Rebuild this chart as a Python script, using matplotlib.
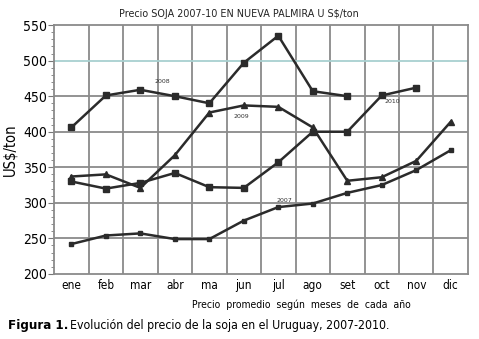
import matplotlib.pyplot as plt
from matplotlib.ticker import MultipleLocator

# monthly average soybean prices, US$/ton
meses = ['ene', 'feb', 'mar', 'abr', 'ma', 'jun', 'jul', 'ago', 'set', 'oct', 'nov', 'dic']
p2007 = [242, 254, 257, 249, 249, 275, 294, 299, 314, 325, 346, 374]
p2008 = [406, 451, 459, 450, 440, 497, 535, 457, 450]
p2009 = [337, 340, 321, 367, 427, 437, 435, 406, 331, 336, 359, 414]
p2010 = [330, 320, 328, 342, 322, 321, 357, 400, 400, 451, 462]

narrow = dict(family='DejaVu Sans', stretch='condensed')
linea = '#2b2b2b'

fig = plt.figure(figsize=(4.79, 3.39), dpi=100)
ax = fig.add_axes([0.113, 0.192, 0.864, 0.734])

x = list(range(12))
ax.plot(x[:len(p2007)], p2007, color=linea, lw=1.8, marker='s', ms=3.2, zorder=3)
ax.plot(x[:len(p2008)], p2008, color=linea, lw=1.8, marker='s', ms=4.5, zorder=3)
ax.plot(x[:len(p2009)], p2009, color=linea, lw=1.8, marker='^', ms=4, zorder=3)
ax.plot(x[:len(p2010)], p2010, color=linea, lw=1.8, marker='s', ms=4, zorder=3)

# year labels next to each line
for txt, xx, yy in [('2008', 2.63, 471), ('2009', 4.92, 422), ('2010', 9.3, 442), ('2007', 6.17, 303)]:
    ax.text(xx, yy, txt, fontsize=4.5, color='#333333', ha='center', va='center', zorder=4)

ax.set_xlim(-0.5, 11.5)
ax.set_ylim(200, 550)
ax.set_xticks(x)
ax.set_xticklabels(meses, fontsize=8.5, **narrow)
ax.yaxis.set_major_locator(MultipleLocator(50))
ax.yaxis.set_minor_locator(MultipleLocator(10))
for lab in ax.get_yticklabels():
    lab.set_family(narrow['family'])
    lab.set_stretch(narrow['stretch'])
    lab.set_fontsize(10)
ax.tick_params(axis='x', length=0, pad=4)
ax.tick_params(axis='y', which='major', length=4, color='#777777', pad=1)
ax.tick_params(axis='y', which='minor', length=2, color='#777777')

# grid: month boundaries and every 50 on the price axis
for b in range(11):
    ax.axvline(b + 0.5, color='#8a8a8a', lw=1.3, zorder=1)
for v in [250, 300, 350, 400, 450, 500]:
    ax.axhline(v, color='#a8d0d0' if v == 500 else '#8a8a8a', lw=1.3, zorder=1)
for s in ax.spines.values():
    s.set_color('#8a8a8a')
    s.set_linewidth(1.3)

ax.set_ylabel('US$/ton', fontsize=10.5, labelpad=4, **narrow)
fig.text(0.499, 0.958, 'Precio SOJA 2007-10 EN NUEVA PALMIRA U S$/ton', fontsize=6.9,
         ha='center', va='center', color='#222222')

fig.text(0.63, 0.1, 'Precio  promedio  según  meses  de  cada  año', fontsize=7.5, ha='center', va='center', **narrow)

# caption: bold figure number followed by the regular text
cap1 = fig.text(0.017, 0.04, 'Figura 1.', fontsize=9.5, weight='bold', va='center', **narrow)
fig.canvas.draw()
bb = cap1.get_window_extent()
fig.text(bb.x1 / fig.bbox.width + 0.004, 0.04, 'Evolución del precio de la soja en el Uruguay, 2007-2010.',
         fontsize=8.8, va='center', **narrow)

fig.savefig('out.png', dpi=100)
